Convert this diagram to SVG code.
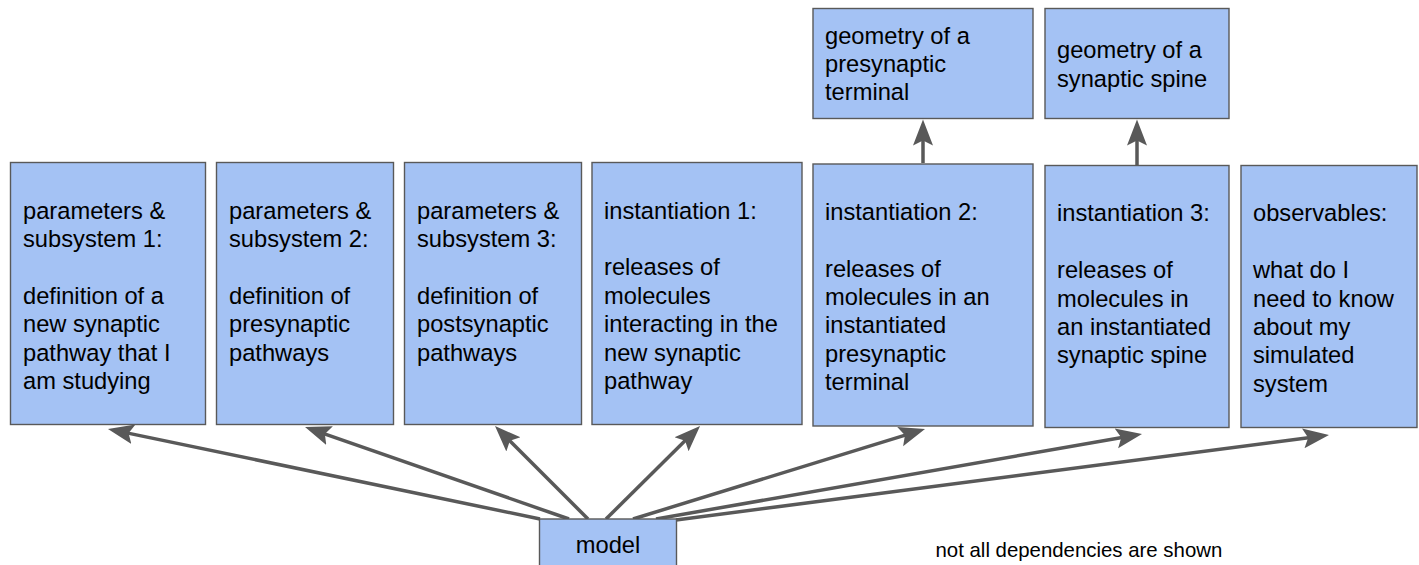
<svg xmlns="http://www.w3.org/2000/svg" width="1419" height="565" viewBox="0 0 1419 565">
<style>
.box{fill:#a4c2f4;stroke:#595959;stroke-width:1.4}
.t{font-family:"Liberation Sans",Arial,sans-serif;font-size:23.7px;fill:#000}
.note{font-family:"Liberation Sans",Arial,sans-serif;font-size:20.4px;fill:#000}
.c{fill:none;stroke:#595959;stroke-width:3.5}
</style>
<defs>
<marker id="ah" markerUnits="userSpaceOnUse" markerWidth="28" markerHeight="24" viewBox="0 0 28 24" refX="13" refY="12" orient="auto">
<path d="M0,2 L26,12 L0,22 L5,12 Z" fill="#595959"/>
</marker>
</defs>
<rect width="1419" height="565" fill="#fff"/>
<g id="connectors">
<path class="c" d="M540,519 L120.7,431.6" marker-end="url(#ah)"/>
<path class="c" d="M569,519 L317.3,431.3" marker-end="url(#ah)"/>
<path class="c" d="M588,519 L504.2,435.2" marker-end="url(#ah)"/>
<path class="c" d="M606,519 L690.8,435.1" marker-end="url(#ah)"/>
<path class="c" d="M633,519 L912.6,432.8" marker-end="url(#ah)"/>
<path class="c" d="M656,519 L1129.2,436.2" marker-end="url(#ah)"/>
<path class="c" d="M676,520 L1316.1,436.7" marker-end="url(#ah)"/>
<path class="c" d="M923,163 L923,132.5" marker-end="url(#ah)"/>
<path class="c" d="M1137,165 L1137,132.5" marker-end="url(#ah)"/>
</g>
<g id="geomPre">
<rect class="box" x="813" y="8.5" width="220" height="110"/>
<text class="t"><tspan x="825" y="43.5">geometry of a</tspan><tspan x="825" y="71.9">presynaptic</tspan><tspan x="825" y="100.3">terminal</tspan></text>
</g>
<g id="geomSpine">
<rect class="box" x="1045" y="8.5" width="184" height="110"/>
<text class="t"><tspan x="1057" y="58.3">geometry of a</tspan><tspan x="1057" y="86.7">synaptic spine</tspan></text>
</g>
<g id="param1">
<rect class="box" x="10.5" y="162.5" width="195" height="262"/>
<text class="t"><tspan x="23" y="218.5">parameters &amp;</tspan><tspan x="23" y="246.9">subsystem 1:</tspan><tspan x="23" y="303.7">definition of a</tspan><tspan x="23" y="332.1">new synaptic</tspan><tspan x="23" y="360.5">pathway that I</tspan><tspan x="23" y="388.9">am studying</tspan></text>
</g>
<g id="param2">
<rect class="box" x="216.5" y="162.5" width="177" height="262"/>
<text class="t"><tspan x="229" y="218.5">parameters &amp;</tspan><tspan x="229" y="246.9">subsystem 2:</tspan><tspan x="229" y="303.7">definition of</tspan><tspan x="229" y="332.1">presynaptic</tspan><tspan x="229" y="360.5">pathways</tspan></text>
</g>
<g id="param3">
<rect class="box" x="404.5" y="162.5" width="177" height="262"/>
<text class="t"><tspan x="417" y="218.5">parameters &amp;</tspan><tspan x="417" y="246.9">subsystem 3:</tspan><tspan x="417" y="303.7">definition of</tspan><tspan x="417" y="332.1">postsynaptic</tspan><tspan x="417" y="360.5">pathways</tspan></text>
</g>
<g id="inst1">
<rect class="box" x="592" y="162.5" width="210" height="262"/>
<text class="t"><tspan x="604" y="218.5">instantiation 1:</tspan><tspan x="604" y="275.3">releases of</tspan><tspan x="604" y="303.7">molecules</tspan><tspan x="604" y="332.1">interacting in the</tspan><tspan x="604" y="360.5">new synaptic</tspan><tspan x="604" y="388.9">pathway</tspan></text>
</g>
<g id="inst2">
<rect class="box" x="813" y="164" width="220" height="262"/>
<text class="t"><tspan x="825" y="219.7">instantiation 2:</tspan><tspan x="825" y="276.5">releases of</tspan><tspan x="825" y="304.9">molecules in an</tspan><tspan x="825" y="333.3">instantiated</tspan><tspan x="825" y="361.7">presynaptic</tspan><tspan x="825" y="390.1">terminal</tspan></text>
</g>
<g id="inst3">
<rect class="box" x="1045" y="165.5" width="184" height="262"/>
<text class="t"><tspan x="1057" y="221.4">instantiation 3:</tspan><tspan x="1057" y="278.2">releases of</tspan><tspan x="1057" y="306.6">molecules in</tspan><tspan x="1057" y="335">an instantiated</tspan><tspan x="1057" y="363.4">synaptic spine</tspan></text>
</g>
<g id="observables">
<rect class="box" x="1241" y="165.5" width="176" height="262"/>
<text class="t"><tspan x="1253" y="221.4">observables:</tspan><tspan x="1253" y="278.2">what do I</tspan><tspan x="1253" y="306.6">need to know</tspan><tspan x="1253" y="335">about my</tspan><tspan x="1253" y="363.4">simulated</tspan><tspan x="1253" y="391.8">system</tspan></text>
</g>
<g id="model">
<rect class="box" x="539.5" y="519" width="137" height="47"/>
<text class="t" x="608" y="553" text-anchor="middle">model</text>
</g>
<text class="note" x="935.5" y="556.5">not all dependencies are shown</text>
</svg>
